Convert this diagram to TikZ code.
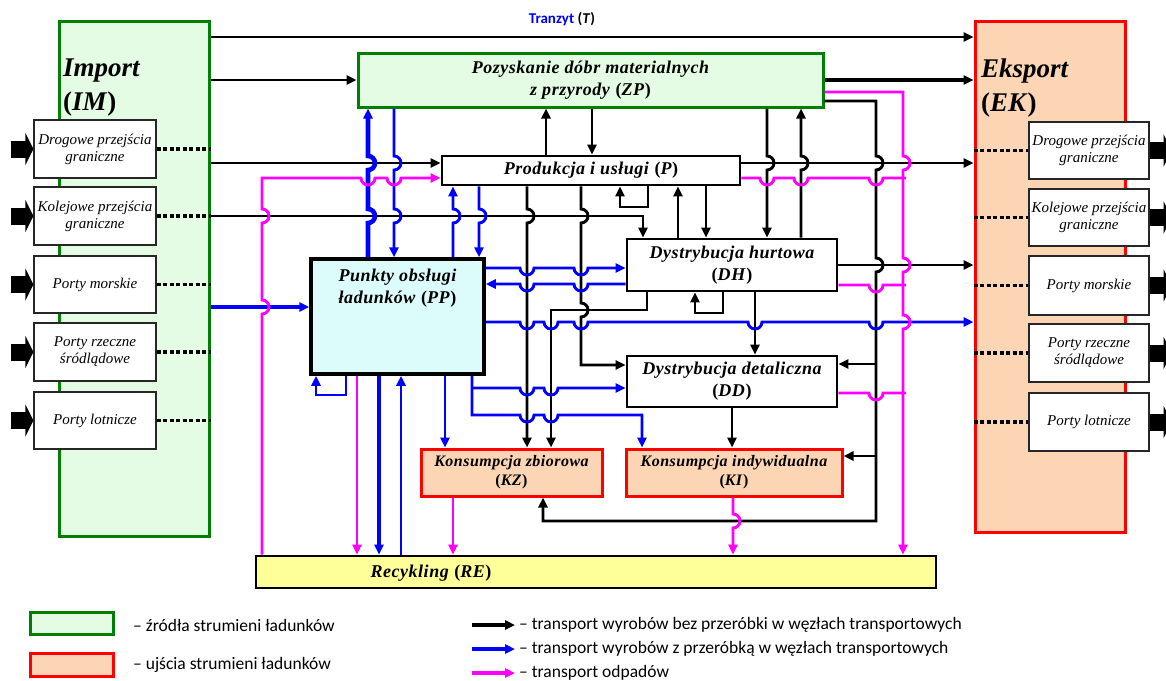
\documentclass[tikz,border=0pt]{standalone}
\usepackage{fontspec}
\setmainfont{Liberation Serif}
\newfontfamily\boxfont[LetterSpace=3]{Liberation Serif}
\newfontfamily\lgfont{Carlito}
\usetikzlibrary{arrows.meta}
\definecolor{cgreen}{HTML}{008000}
\definecolor{cgfill}{HTML}{E3FCE3}
\definecolor{cred}{HTML}{FF0000}
\definecolor{cpeach}{HTML}{FCD5B4}
\definecolor{ccyan}{HTML}{DCFCFC}
\definecolor{cyellow}{HTML}{FFFF99}
\definecolor{cblue}{HTML}{0000FF}
\definecolor{cpink}{HTML}{FF00FF}
\newcommand\hopr{7}
\newcommand\hopdn[2]{-- ({#1},{#2-\hopr}) arc[start angle=-90,end angle=90,radius=\hopr]}
\newcommand\hopup[2]{-- ({#1},{#2+\hopr}) arc[start angle=90,end angle=-90,radius=\hopr]}
\newcommand\hoprt[2]{-- ({#1-\hopr},{#2}) arc[start angle=180,end angle=0,radius=\hopr]}
\newcommand\hoplt[2]{-- ({#1+\hopr},{#2}) arc[start angle=0,end angle=180,radius=\hopr]}
\newcommand\ab[1]{\textup{(}#1\textup{)}}
\tikzset{
  every picture/.style={x=1pt, y=-1pt},
  unitfont/.style={font=\boxfont\bfseries\itshape\fontsize{18}{22}\selectfont},
  srcbox/.style={draw=cgreen, fill=cgfill, line width=3pt, inner sep=0pt, align=center, unitfont},
  sinkbox/.style={draw=cred, fill=cpeach, line width=3pt, inner sep=0pt, align=center, font=\boxfont\bfseries\itshape\fontsize{16}{19}\selectfont},
  unit/.style={draw=black, fill=white, line width=2.8pt, inner sep=0pt, align=center, unitfont},
  boxtext/.style={inner sep=0pt, align=center, unitfont},
  title/.style={inner sep=0pt, align=left, font=\bfseries\itshape\fontsize{27}{34}\selectfont},
  gate/.style={draw=black!85, fill=white, line width=1.2pt, inner sep=0pt, align=center, minimum height=58pt, font=\itshape\fontsize{15}{17}\selectfont},
  legend/.style={inner sep=0pt, anchor=west, font=\lgfont\fontsize{17.5}{20}\selectfont},
  dots/.style={line width=3.5pt, dash pattern=on 4pt off 2.5pt},
  fat/.style={line width=17pt, -{Triangle[length=8pt,width=32pt]}},
  blk/.style={draw=black, line width=2.9pt, -{Triangle[length=10pt,width=9pt]}},
  blkT/.style={blk, line width=4.6pt},
  blu/.style={blk, draw=cblue},
  bluT/.style={blu, line width=4.6pt},
  pnk/.style={blk, draw=cpink},
  pnkT/.style={pnk, line width=4.6pt},
}
\begin{document}
\begin{tikzpicture}
  \fill[white] (0,0) rectangle (1166,680);
  \useasboundingbox (0,0) rectangle (1166,680);

  \node[srcbox, minimum width=150pt, minimum height=515pt] (IM) at (134,278.5) {};
  \node[sinkbox, minimum width=150pt, minimum height=511pt] (EK) at (1050,276.5) {};
  \node[title, anchor=north west] (IMt) at (63,59) {Import\\\ab{IM}};
  \node[title, anchor=north west] (EKt) at (981,59) {Eksport\\\ab{EK}};
  \node[font=\lgfont\bfseries\fontsize{15}{17}\selectfont] (T) at (562,19) {\textcolor{cblue}{Tranzyt} (\textit{T})};

  \node[srcbox, minimum width=465pt, minimum height=54pt] (ZP) at (590.5,80) {Pozyskanie dóbr materialnych\\z przyrody \ab{ZP}};
  \node[unit, minimum width=298pt, minimum height=29pt] (P) at (591,170.5) {Produkcja i usługi \ab{P}};
  \node[unit, minimum width=210pt, minimum height=52pt] (DH) at (732,265) {Dystrybucja hurtowa\\\ab{DH}};
  \node[unit, minimum width=210pt, minimum height=51pt] (DD) at (732,381.5) {Dystrybucja detaliczna\\\ab{DD}};
  \node[unit, fill=ccyan, line width=3.5pt, minimum width=173pt, minimum height=115pt] (PP) at (397.5,316.5) {};
  \node[boxtext, anchor=north] (PPt) at (397.5,269) {Punkty obsługi\\ładunków \ab{PP}};
  \node[sinkbox, minimum width=181pt, minimum height=47pt] (KZ) at (511.5,472.5) {Konsumpcja zbiorowa\\\ab{KZ}};
  \node[sinkbox, minimum width=216pt, minimum height=47pt] (KI) at (734,472.5) {Konsumpcja indywidualna\\\ab{KI}};
  \node[unit, fill=cyellow, minimum width=680pt, minimum height=32pt] (RE) at (596,572) {};
  \node[boxtext] (REt) at (431,573) {Recykling \ab{RE}};

  \node[gate, minimum width=122pt] (roadL) at (95,149) {Drogowe przejścia\\graniczne};
  \node[gate, minimum width=122pt] (railL) at (95,216) {Kolejowe przejścia\\graniczne};
  \node[gate, minimum width=122pt, minimum height=57pt] (seaL) at (95,284.5) {Porty morskie};
  \node[gate, minimum width=122pt] (riverL) at (95,352) {Porty rzeczne\\śródlądowe};
  \node[gate, minimum width=122pt, minimum height=57pt] (airL) at (95,420.5) {Porty lotnicze};
  \node[gate, minimum width=120pt, minimum height=57pt] (roadR) at (1089,150.5) {Drogowe przejścia\\graniczne};
  \node[gate, minimum width=120pt, minimum height=57pt] (railR) at (1089,217.5) {Kolejowe przejścia\\graniczne};
  \node[gate, minimum width=120pt, minimum height=59pt] (seaR) at (1089,285.5) {Porty morskie};
  \node[gate, minimum width=120pt] (riverR) at (1089,353) {Porty rzeczne\\śródlądowe};
  \node[gate, minimum width=120pt] (airR) at (1089,422) {Porty lotnicze};

  \draw[dots] (roadL) -- (IM.east |- roadL);
  \draw[dots] (railL) -- (IM.east |- railL);
  \draw[dots] (seaL) -- (IM.east |- seaL);
  \draw[dots] (riverL) -- (IM.east |- riverL);
  \draw[dots] (airL) -- (IM.east |- airL);
  \draw[dots] (EK.west |- roadR) -- (roadR);
  \draw[dots] (EK.west |- railR) -- (railR);
  \draw[dots] (EK.west |- seaR) -- (seaR);
  \draw[dots] (EK.west |- riverR) -- (riverR);
  \draw[dots] (EK.west |- airR) -- (airR);
  \draw[fat] ([xshift=-22pt]roadL.west) -- (roadL.west);
  \draw[fat] ([xshift=-22pt]railL.west) -- (railL.west);
  \draw[fat] ([xshift=-22pt]seaL.west) -- (seaL.west);
  \draw[fat] ([xshift=-22pt]riverL.west) -- (riverL.west);
  \draw[fat] ([xshift=-22pt]airL.west) -- (airL.west);
  \draw[fat] (roadR.east) -- ++(22,0);
  \draw[fat] (railR.east) -- ++(22,0);
  \draw[fat] (seaR.east) -- ++(22,0);
  \draw[fat] (riverR.east) -- ++(22,0);
  \draw[fat] (airR.east) -- ++(22,0);

  \draw[blk] (IM.east |- 0,37) -- (EK.west |- 0,37);
  \draw[blk] (IM.east |- ZP.west) -- (ZP.west);
  \draw[blkT] (ZP.east) -- (EK.west |- ZP.east);
  \draw[blk] (IM.east |- 0,163) -- (P.west |- 0,163);
  \draw[blk] (P.east |- 0,163) -- (EK.west |- 0,163);
  \draw[blk] (IM.east |- 0,216) -- (643,216) -- (DH.north -| 643,0);
  \draw[blk] (DH.east) -- (EK.west |- DH.east);
  \draw[blk] (P.north -| 546,0) -- (ZP.south -| 546,0);
  \draw[blk] (ZP.south -| 592,0) -- (P.north -| 592,0);
  \draw[blk] (ZP.south -| 767,0) \hopdn{767}{163} -- (DH.north -| 767,0);
  \draw[blk] (DH.north -| 801,0) \hopup{801}{163} -- (ZP.south -| 801,0);
  \draw[blk] (ZP.east |- 0,101) -- (876,101) \hopdn{876}{163} \hopdn{876}{265} -- (876,521) -- (543,521) -- (KZ.south -| 543,0);
  \draw[blk] (876,364) -- (DD.east |- 0,364);
  \draw[blk] (876,456) -- (KI.east |- 0,456);
  \draw[blk] (P.south -| 527,0) \hopdn{527}{216} -- (KZ.north -| 527,0);
  \draw[blk] (P.south -| 581,0) \hopdn{581}{216} \hopdn{581}{310} -- (581,365) -- (DD.west |- 0,365);
  \draw[blk] (P.south -| 648,0) -- (648,207) -- (620,207) -- (P.south -| 620,0);
  \draw[blk] (DH.north -| 678,0) -- (P.south -| 678,0);
  \draw[blk] (P.south -| 706,0) -- (DH.north -| 706,0);
  \draw[blk] (DH.south -| 647,0) -- (647,310) -- (551,310) -- (KZ.north -| 551,0);
  \draw[blk] (DH.south -| 723,0) -- (723,313) -- (695,313) -- (DH.south -| 695,0);
  \draw[blk] (DH.south -| 755,0) -- (DD.north -| 755,0);
  \draw[blk] (DD.south -| 732,0) -- (KI.north -| 732,0);

  \draw[bluT] (IM.east |- 0,307) -- (PP.west |- 0,307);
  \draw[bluT] (PP.north -| 368,0) \hopup{368}{216} \hopup{368}{163} -- (ZP.south -| 368,0);
  \draw[blu] (ZP.south -| 394,0) \hopdn{394}{163} \hopdn{394}{216} -- (PP.north -| 394,0);
  \draw[blu] (PP.north -| 453,0) \hopup{453}{216} -- (P.south -| 453,0);
  \draw[blu] (P.south -| 479,0) \hopdn{479}{216} -- (PP.north -| 479,0);
  \draw[blu] (PP.east |- 0,268) \hoprt{527}{268} \hoprt{581}{268} -- (DH.west |- 0,268);
  \draw[blu] (DH.west |- 0,284) \hoplt{581}{284} \hoplt{527}{284} -- (PP.east |- 0,284);
  \draw[blu] (PP.east |- 0,322) \hoprt{527}{322} \hoprt{551}{322} \hoprt{581}{322} \hoprt{755}{322} \hoprt{876}{322} -- (EK.west |- 0,322);
  \draw[blu] (PP.south -| 472,0) -- (472,415) \hoprt{527}{415} \hoprt{551}{415} -- (642,415) -- (KI.north -| 642,0);
  \draw[blu] (472,388) \hoprt{527}{388} \hoprt{551}{388} -- (DD.west |- 0,388);
  \draw[blu] (PP.south -| 445,0) -- (KZ.north -| 445,0);
  \draw[blu] (PP.south -| 346,0) -- (346,395) -- (316,395) -- (PP.south -| 316,0);
  \draw[bluT] (PP.south -| 379,0) -- (RE.north -| 379,0);
  \draw[blu] (RE.north -| 401,0) -- (PP.south -| 401,0);

  \draw[pnk] (PP.south -| 357,0) -- (RE.north -| 357,0);
  \draw[pnk] (RE.north -| 262,0) \hopup{262}{307} \hopup{262}{216} -- (262,178) \hoprt{368}{178} \hoprt{394}{178} -- (P.west |- 0,178);
  \draw[pnk] (ZP.east |- 0,92) -- (903,92) \hopdn{903}{163} \hopdn{903}{265} \hopdn{903}{322} -- (RE.north -| 903,0);
  \draw[pnk, -] (P.east |- 0,178) \hoprt{767}{178} \hoprt{801}{178} \hoprt{876}{178} -- (906,178);
  \draw[pnk, -] (DH.east |- 0,285) \hoprt{876}{285} -- (906,285);
  \draw[pnk, -] (DD.east |- 0,393) \hoprt{876}{393} -- (906,393);
  \draw[pnk] (KZ.south -| 453,0) -- (RE.north -| 453,0);
  \draw[pnk] (KI.south -| 733,0) \hopdn{733}{521} -- (RE.north -| 733,0);

  \node[srcbox, minimum width=83pt, minimum height=22pt] (lgsrc) at (71.5,623.5) {};
  \node[sinkbox, minimum width=83pt, minimum height=23pt] (lgsink) at (71.5,664.5) {};
  \node[legend] (lgsrct) at (133,625) {– źródła strumieni ładunków};
  \node[legend] (lgsinkt) at (133,665) {– ujścia strumieni ładunków};
  \node[legend] (lgblk) at (519,625) {– transport wyrobów bez przeróbki w węzłach transportowych};
  \node[legend] (lgblu) at (519,649) {– transport wyrobów z przeróbką w węzłach transportowych};
  \node[legend] (lgpnk) at (519,673) {– transport odpadów};
  \draw[blkT] ([xshift=-47pt]lgblk.west) -- ([xshift=-4pt]lgblk.west);
  \draw[bluT] ([xshift=-47pt]lgblu.west) -- ([xshift=-4pt]lgblu.west);
  \draw[pnkT] ([xshift=-47pt]lgpnk.west) -- ([xshift=-4pt]lgpnk.west);
\end{tikzpicture}
\end{document}
